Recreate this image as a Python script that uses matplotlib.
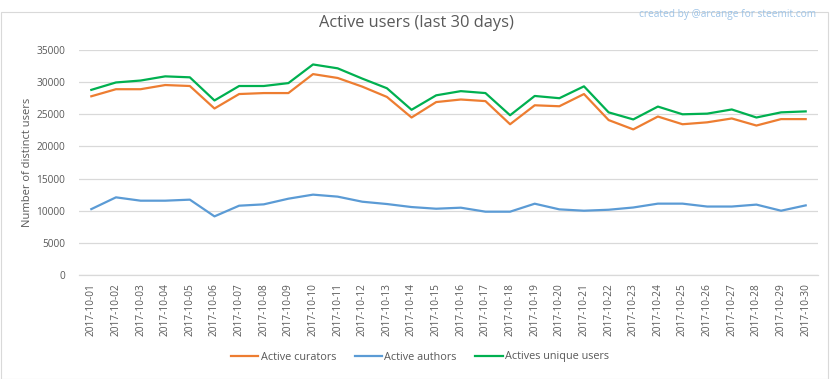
import matplotlib
matplotlib.use("Agg")
import matplotlib.pyplot as plt
from matplotlib.patches import Rectangle

dates = ["2017-10-%02d" % d for d in range(1, 31)]
curators = [27800, 28900, 28900, 29550, 29400, 25900, 28150, 28300, 28300, 31250,
            30650, 29300, 27700, 24500, 26900, 27300, 27050, 23450, 26400, 26250,
            28150, 24100, 22650, 24650, 23450, 23750, 24350, 23250, 24250, 24250]
authors = [10250, 12080, 11560, 11560, 11720, 9120, 10780, 10990, 11870, 12500,
           12190, 11400, 11040, 10570, 10310, 10470, 9850, 9850, 11090, 10210,
           10000, 10150, 10500, 11100, 11100, 10650, 10650, 10950, 10000, 10830]
uniques = [28800, 29950, 30250, 30900, 30750, 27150, 29400, 29400, 29850, 32750,
           32150, 30550, 29050, 25700, 27950, 28600, 28300, 24850, 27850, 27500,
           29350, 25300, 24200, 26200, 25000, 25100, 25750, 24500, 25300, 25450]
y_ticks = [0, 5000, 10000, 15000, 20000, 25000, 30000, 35000]

plt.rcParams['font.family'] = ['Open Sans', 'DejaVu Sans']
txt = '#595959'
grid = '#d9d9d9'

fig = plt.figure(figsize=(8.33, 3.79), dpi=100)
W, H = 833, 379
ax = fig.add_axes([79 / W, 1 - 275 / H, (818 - 79) / W, (275 - 50) / H])

x = list(range(len(dates)))
ax.plot(x, curators, color='#ED7D31', lw=1.6, label='Active curators', solid_joinstyle='round')
ax.plot(x, authors, color='#5B9BD5', lw=1.6, label='Active authors', solid_joinstyle='round')
ax.plot(x, uniques, color='#00B050', lw=1.6, label='Actives unique users', solid_joinstyle='round')

ax.set_xlim(-0.5, len(dates) - 0.5)
ax.set_ylim(0, 35000)
ax.set_yticks(y_ticks)
ax.set_yticklabels([str(v) for v in y_ticks])
ax.set_xticks(x)
ax.set_xticklabels(dates, rotation=90)
ax.tick_params(axis='both', length=0, colors=txt, labelsize=7.3)
ax.tick_params(axis='y', pad=10)
ax.tick_params(axis='x', pad=6)
ax.grid(axis='y', color=grid, lw=0.9)
ax.set_axisbelow(True)
for s in ['top', 'right', 'left']:
    ax.spines[s].set_visible(False)
ax.spines['bottom'].set_color(grid)
ax.spines['bottom'].set_linewidth(0.9)

ax.set_ylabel('Number of distinct users', color=txt, fontsize=8, va='center')
ax.yaxis.set_label_coords((28 - 79) / (818 - 79), 0.5)

fig.text(416 / W, 1 - 23 / H, 'Active users (last 30 days)', ha='center', va='center',
         fontsize=11.8, color=txt)
fig.text(816 / W, 1 - 15 / H, 'created by @arcange for steemit.com', ha='right', va='center',
         fontsize=7.3, color='#9DC3E6')

leg = fig.legend(loc='center', bbox_to_anchor=(420 / W, 1 - 357 / H), ncol=3, frameon=False,
                 fontsize=7.8, handlelength=2.5, handletextpad=0.2, columnspacing=1.75)
for t in leg.get_texts():
    t.set_color(txt)

fig.patches.append(Rectangle((0.5 / W, 0.5 / H), 1 - 6 / W, 1 - 12 / H, transform=fig.transFigure,
                             fill=False, edgecolor=grid, lw=0.8))

fig.savefig('out.png', dpi=100, facecolor='white')
